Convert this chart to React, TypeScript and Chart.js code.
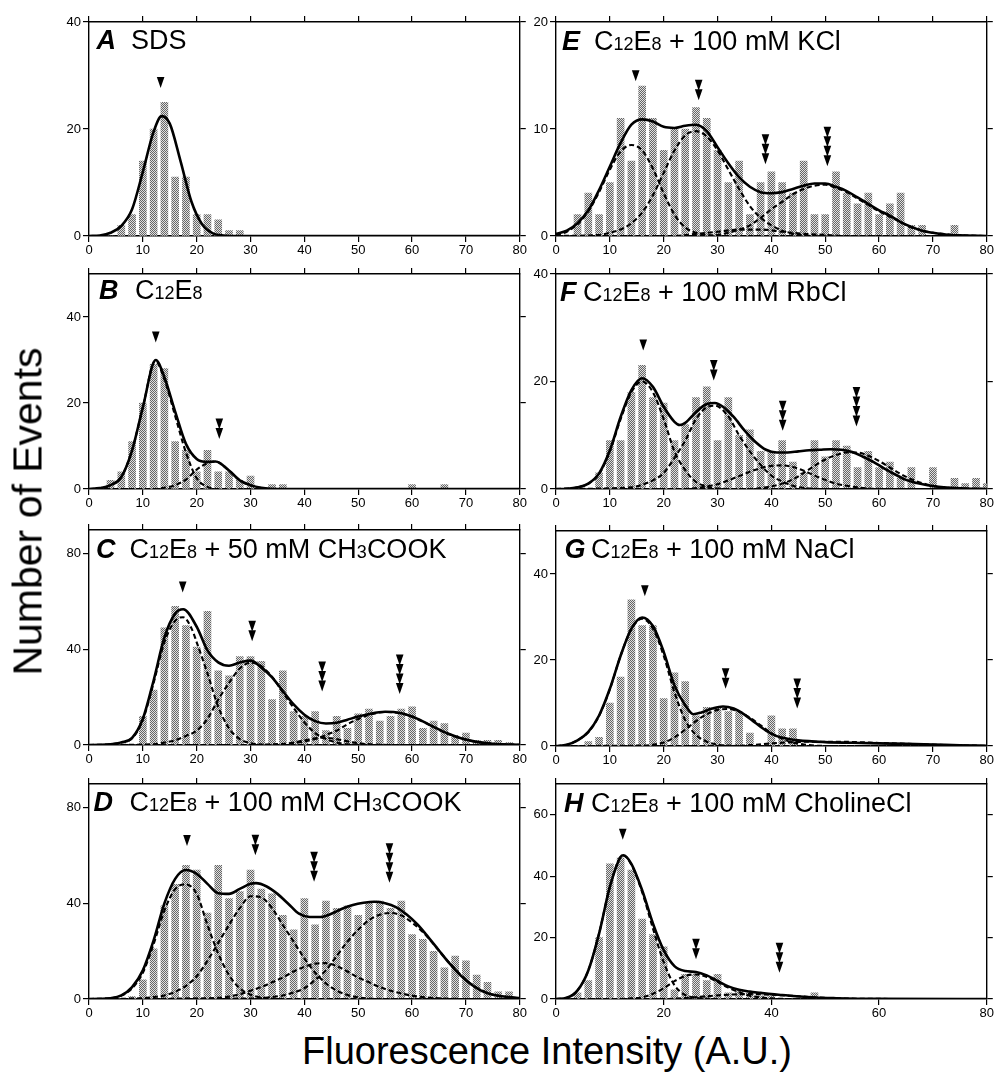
import React, { useEffect, useRef } from "react";
import { Chart, registerables } from "chart.js";

Chart.register(...registerables);

const FONT = '"Liberation Sans", Arial, Helvetica, sans-serif';
Chart.defaults.font.family = FONT;

type Pt = [number, number];
type Mark = [number, number, number];

// ---------- DATA ----------
const BIN_X = [0, 2, 4, 6, 8, 10, 12, 14, 16, 18, 20, 22, 24, 26, 28, 30, 32, 34, 36, 38, 40, 42, 44, 46, 48, 50, 52, 54, 56, 58, 60, 62, 64, 66, 68, 70, 72, 74, 76, 78, 80];

const countsA = [0, 0, 0, 2, 4, 14, 20, 25, 11, 11, 4, 4, 3, 1, 1, 0, 0, 0, 0, 0, 0, 0, 0, 0, 0, 0, 0, 0, 0, 0, 0, 0, 0, 0, 0, 0, 0, 0, 0, 0, 0];
const countsB = [0, 0, 2, 4, 11, 20, 29, 28, 11, 9, 4, 9, 4, 4, 2, 3, 0, 1, 1, 0, 0, 0, 0, 0, 0, 0, 0, 0, 0, 0, 1, 0, 0, 1, 0, 0, 0, 0, 0, 0, 0];
const countsC = [0, 0, 0, 0, 0, 12, 23, 49, 58, 50, 41, 56, 31, 29, 37, 37, 35, 19, 31, 14, 12, 14, 6, 12, 7, 13, 15, 10, 12, 15, 16, 7, 10, 9, 4, 5, 2, 2, 2, 1, 0];
const countsD = [0, 0, 0, 0, 1, 8, 21, 39, 48, 56, 54, 36, 56, 42, 45, 54, 46, 44, 35, 29, 42, 31, 41, 38, 39, 35, 40, 41, 38, 41, 27, 25, 20, 13, 18, 16, 10, 7, 3, 3, 0];
const countsE = [0, 0, 2, 4, 2, 5, 11, 7, 14, 11, 8, 10, 10, 12, 11, 8, 5, 7, 2, 5, 6, 5, 4, 7, 2, 2, 6, 4, 3, 4, 2, 3, 4, 1, 1, 0, 0, 1, 0, 0, 0];
const countsF = [0, 0, 0, 0, 3, 9, 9, 18, 23, 17, 16, 9, 12, 17, 19, 9, 17, 10, 11, 7, 7, 9, 5, 3, 9, 6, 9, 8, 4, 7, 4, 5, 2, 4, 0, 4, 0, 2, 1, 2, 1];
const countsG = [0, 0, 0, 1, 2, 10, 16, 34, 28, 28, 11, 17, 15, 7, 9, 9, 8, 8, 3, 0, 7, 4, 4, 0, 0, 0, 0, 0, 0, 0, 0, 0, 0, 0, 0, 0, 0, 0, 0, 0, 0];
const countsH = [0, 0, 2, 6, 20, 44, 46, 42, 26, 21, 17, 3, 8, 8, 6, 8, 2, 3, 2, 1, 1, 0, 0, 0, 2, 0, 0, 0, 0, 0, 0, 0, 0, 0, 0, 0, 0, 0, 0, 0, 0];

// fitted curves, [x, y]
const fitA_total: Pt[] = [[0, 0], [2, 0.1], [4, 0.6], [6, 1.9], [8, 5], [10, 12], [12, 19.5], [13.5, 22.4], [15, 21], [17, 14], [19, 6.5], [21, 2.2], [23, 0.5], [25, 0.1], [28, 0], [80, 0]];

const fitB_total: Pt[] = [[0, 0], [2, 0.2], [4, 0.9], [6, 2.8], [8, 9], [10, 19], [12.4, 30], [14, 26], [16, 18], [18, 10.5], [20, 7], [22, 6.3], [23.5, 6.4], [26, 4.3], [28, 2], [30, 0.9], [32, 0.3], [35, 0], [80, 0]];
const fitB_c1: Pt[] = [[0, 0], [2, 0.2], [4, 0.9], [6, 2.8], [8, 9], [10, 19], [12.3, 29.8], [14, 25.5], [16, 17], [18, 8.5], [20, 2.5], [22, 0.5], [24, 0], [80, 0]];
const fitB_c2: Pt[] = [[0, 0], [12, 0], [14, 0.3], [16, 0.9], [18, 2.2], [20, 4.5], [22, 6], [23.5, 6.4], [26, 4.3], [28, 2], [30, 0.8], [32, 0.2], [35, 0], [80, 0]];

const fitC_total: Pt[] = [[0, 0], [2, 0.05], [4, 0.3], [6, 1.1], [8, 3], [10, 11], [12, 27], [14, 45], [16, 55], [17.5, 56.8], [20, 49.5], [22, 39.6], [24, 34.6], [26, 33.2], [28, 34.5], [30, 35.3], [32, 32.5], [34, 28.3], [36, 22.6], [38, 17], [40, 12.7], [42, 10], [44, 9], [46, 9.3], [48, 10.6], [50, 11.9], [52, 13], [55, 13.9], [58, 13.3], [60, 11.9], [62, 9.9], [64, 7.6], [66, 5.4], [68, 3.7], [70, 2.3], [72, 1.3], [75, 0.5], [80, 0.1]];
const fitC_c1: Pt[] = [[0, 0], [4, 0.3], [6, 1], [8, 2.8], [10, 10.5], [12, 26], [14, 43], [16, 52], [17.5, 53.5], [19, 49], [20, 43], [22, 30], [24, 16], [26, 7], [28, 2.5], [30, 0.8], [32, 0.2], [35, 0], [80, 0]];
const fitC_c2: Pt[] = [[0, 0], [12, 0.3], [14, 1], [16, 2], [18, 3.8], [20, 6], [22, 11], [24, 19], [26, 26], [28, 32], [30, 34.5], [32, 33], [34, 28.5], [36, 22], [38, 15.5], [40, 9.5], [42, 5], [44, 2.5], [46, 1], [48, 0.3], [52, 0], [80, 0]];
const fitC_c3: Pt[] = [[0, 0], [34, 0], [36, 0.3], [38, 1], [40, 2], [42, 2.8], [43.5, 3.1], [45, 2.8], [47, 2], [49, 1.1], [51, 0.5], [54, 0.1], [58, 0], [80, 0]];
const fitC_c4: Pt[] = [[0, 0], [30, 0], [34, 0.3], [38, 0.8], [40, 1.5], [42, 2.5], [44, 4.2], [46, 6], [48, 8.7], [50, 10.9], [52, 12.6], [55, 13.8], [58, 13.2], [60, 11.8], [62, 9.8], [64, 7.5], [66, 5.3], [68, 3.6], [70, 2.2], [72, 1.3], [75, 0.5], [80, 0.1]];

const fitD_total: Pt[] = [[0, 0], [2, 0.05], [4, 0.3], [6, 1.5], [8, 5], [10, 12], [12, 24.5], [14, 40], [16, 50.3], [18, 54], [20, 52.4], [22, 48.2], [24, 44.3], [26, 44], [28, 46.1], [30, 48.2], [31, 48.5], [33, 47.1], [35, 44], [37, 39.9], [39, 35.7], [41, 34.3], [43, 34.3], [45, 35.7], [47, 37.8], [49, 39.4], [51, 40.3], [53, 40.7], [55, 40.1], [57, 38.5], [59, 35.4], [61, 31.2], [63, 25.9], [65, 20.3], [67, 14.8], [69, 9.9], [71, 6.1], [73, 3.3], [75, 1.8], [78, 0.8], [80, 0.4]];
const fitD_c1: Pt[] = [[0, 0], [4, 0.3], [6, 1.4], [8, 4.5], [10, 11], [12, 23], [14, 37], [16, 46], [18, 48], [20, 44], [22, 31], [24, 19], [26, 10], [28, 4.5], [30, 1.8], [32, 0.6], [34, 0.2], [38, 0], [80, 0]];
const fitD_c2: Pt[] = [[0, 0], [10, 0.3], [12, 0.8], [14, 1.5], [16, 3], [18, 5.5], [20, 9.5], [22, 16], [24, 23.5], [26, 31], [28, 38], [30, 43], [32, 42.5], [34, 38], [36, 31], [38, 24], [40, 17], [42, 11], [44, 6.5], [46, 3.5], [48, 1.7], [50, 0.7], [52, 0.2], [56, 0], [80, 0]];
const fitD_c3: Pt[] = [[0, 0], [20, 0.2], [24, 0.5], [26, 1], [28, 2], [30, 3.5], [32, 5], [34, 7], [36, 9], [38, 11.5], [40, 13.5], [42, 14.8], [44, 15], [46, 13.8], [48, 11.5], [50, 9], [52, 7], [54, 5], [56, 3.5], [58, 2.3], [60, 1.4], [62, 0.8], [65, 0.3], [70, 0], [80, 0]];
const fitD_c4: Pt[] = [[0, 0], [30, 0.2], [34, 0.8], [36, 1.5], [38, 2.7], [40, 4.5], [42, 8], [44, 12], [46, 18], [48, 24], [50, 29], [52, 33], [54, 35.3], [56, 36], [58, 35], [60, 32], [62, 28], [64, 23], [66, 17.5], [68, 12.5], [70, 8], [72, 4.8], [74, 2.6], [76, 1.3], [78, 0.7], [80, 0.3]];

const fitE_total: Pt[] = [[0, 0.2], [2, 0.5], [4, 1.2], [6, 2.4], [8, 4.3], [10, 6.5], [12, 8.7], [14, 10.4], [16, 10.9], [18, 10.7], [20, 10.2], [22, 10.1], [24, 10.3], [26, 10.4], [28, 9.8], [30, 8.3], [32, 6.8], [34, 5.5], [36, 4.6], [38, 4.1], [40, 4], [42, 4.1], [44, 4.4], [46, 4.7], [48, 4.9], [50, 4.9], [52, 4.6], [54, 4.2], [56, 3.6], [58, 3], [60, 2.4], [62, 1.9], [64, 1.3], [66, 0.85], [68, 0.5], [70, 0.3], [73, 0.1], [76, 0.05], [80, 0]];
const fitE_c1: Pt[] = [[0, 0.1], [2, 0.4], [4, 1.1], [6, 2.3], [8, 4.1], [10, 6.2], [12, 7.9], [14, 8.5], [16, 8], [18, 6.3], [20, 4], [22, 2], [24, 0.8], [26, 0.3], [28, 0.1], [32, 0], [80, 0]];
const fitE_c2: Pt[] = [[0, 0], [8, 0.1], [10, 0.3], [12, 0.6], [14, 1.2], [16, 2.2], [18, 3.8], [20, 5.9], [22, 8], [24, 9.4], [26, 9.8], [28, 9.3], [30, 8], [32, 6.2], [34, 4.4], [36, 2.8], [38, 1.7], [40, 1], [42, 0.5], [44, 0.2], [48, 0], [80, 0]];
const fitE_c3: Pt[] = [[0, 0], [22, 0], [26, 0.2], [30, 0.4], [34, 0.6], [38, 0.6], [42, 0.4], [46, 0.2], [50, 0.1], [54, 0], [80, 0]];
const fitE_c4: Pt[] = [[0, 0], [28, 0], [32, 0.3], [34, 0.6], [36, 1], [38, 1.7], [40, 2.5], [42, 3.2], [44, 3.9], [46, 4.4], [48, 4.7], [50, 4.8], [52, 4.5], [54, 4.1], [56, 3.5], [58, 2.9], [60, 2.3], [62, 1.8], [64, 1.3], [66, 0.8], [68, 0.5], [70, 0.3], [74, 0.1], [80, 0]];

const fitF_total: Pt[] = [[0, 0], [2, 0.05], [4, 0.3], [6, 1], [8, 2.9], [10, 7.2], [12, 13.4], [14, 18.4], [16, 20.6], [18, 19], [20, 15.3], [22, 12.5], [23, 11.9], [24, 12.3], [26, 14.3], [28, 15.8], [29.5, 16], [31, 15.3], [33, 13.4], [35, 10.9], [37, 8.8], [39, 7.3], [41, 6.8], [43, 6.8], [45, 7], [47, 7.2], [49, 7.3], [51, 7.4], [53, 7.3], [55, 6.9], [57, 6], [59, 5], [61, 3.8], [63, 2.7], [65, 1.7], [67, 1.1], [69, 0.7], [72, 0.3], [76, 0.1], [80, 0]];
const fitF_c1: Pt[] = [[0, 0], [4, 0.3], [6, 1], [8, 2.8], [10, 7], [12, 13], [14, 18], [16, 20], [18, 18], [20, 13], [22, 7], [24, 3.5], [26, 1.3], [28, 0.5], [30, 0.1], [34, 0], [80, 0]];
const fitF_c2: Pt[] = [[0, 0], [14, 0.3], [16, 0.8], [18, 1.6], [20, 3], [22, 5.8], [24, 9], [26, 13], [28, 15.2], [29.5, 15.5], [32, 13.5], [34, 10], [36, 7], [38, 4.5], [40, 2.5], [42, 1.4], [44, 0.6], [46, 0.2], [50, 0], [80, 0]];
const fitF_c3: Pt[] = [[0, 0], [24, 0], [28, 0.5], [30, 0.9], [32, 1.6], [34, 2.4], [36, 3.2], [38, 3.9], [40, 4.3], [42, 4.4], [44, 4.1], [46, 3.4], [48, 2.5], [50, 1.7], [52, 1], [54, 0.6], [56, 0.3], [58, 0.1], [62, 0], [80, 0]];
const fitF_c4: Pt[] = [[0, 0], [36, 0], [40, 0.5], [42, 1], [44, 1.8], [46, 3], [48, 4.3], [50, 5.5], [52, 6.3], [54, 6.8], [56, 6.8], [58, 6.2], [60, 5.2], [62, 4], [64, 2.8], [66, 1.8], [68, 1.1], [70, 0.6], [72, 0.3], [75, 0.1], [80, 0]];

const fitG_total: Pt[] = [[0, 0], [2, 0.3], [4, 1.3], [6, 3.3], [8, 7.1], [10, 13.3], [12, 21], [14, 27.3], [16, 29.9], [18, 27.9], [20, 21.9], [22, 14.1], [24, 9.5], [25.5, 7.4], [27, 7.8], [29, 8.7], [31, 9.2], [33, 8.7], [35, 7.3], [37, 5.4], [39, 3.6], [41, 2.3], [43, 1.7], [45, 1.3], [50, 0.9], [55, 0.75], [60, 0.6], [65, 0.5], [70, 0.35], [75, 0.15], [80, 0.05]];
const fitG_c1: Pt[] = [[0, 0], [2, 0.3], [4, 1.3], [6, 3.2], [8, 7], [10, 13.2], [12, 21], [14, 27.2], [16, 29.6], [18, 27.3], [20, 21], [22, 12.5], [24, 6], [26, 2.6], [28, 1], [30, 0.3], [32, 0.1], [36, 0], [80, 0]];
const fitG_c2: Pt[] = [[0, 0], [16, 0.1], [18, 0.3], [20, 0.8], [22, 2], [24, 3.8], [26, 5.8], [28, 7.4], [30, 8.4], [32, 8.6], [34, 8], [36, 6.6], [38, 4.8], [40, 3], [42, 1.7], [44, 0.8], [46, 0.35], [48, 0.1], [52, 0], [80, 0]];
const fitG_c3: Pt[] = [[0, 0], [32, 0], [36, 0.2], [40, 0.6], [44, 0.9], [48, 1], [52, 1], [56, 0.9], [60, 0.7], [64, 0.55], [68, 0.4], [72, 0.25], [76, 0.12], [80, 0.05]];

const fitH_total: Pt[] = [[0, 0], [2, 0.4], [4, 2.8], [6, 9.3], [8, 21.3], [10, 36.5], [12, 46.3], [12.5, 46.8], [14, 44], [16, 35.4], [18, 24.6], [20, 15.9], [22, 10.7], [24, 9.1], [26, 8.8], [28, 7.7], [30, 5.9], [32, 4.1], [34, 3], [36, 2.4], [38, 2], [40, 1.6], [42, 1.3], [44, 1], [46, 0.75], [48, 0.5], [52, 0.25], [56, 0.1], [60, 0.05], [80, 0]];
const fitH_c1: Pt[] = [[0, 0], [2, 0.4], [4, 2.8], [6, 9.3], [8, 21.3], [10, 36.5], [12, 46.3], [12.5, 46.7], [14, 43.7], [16, 34.8], [18, 23], [20, 12], [22, 4.5], [24, 1.3], [26, 0.4], [28, 0.1], [32, 0], [80, 0]];
const fitH_c2: Pt[] = [[0, 0], [12, 0], [14, 0.2], [16, 0.5], [18, 1.7], [20, 3.5], [22, 5.8], [24, 7.5], [26, 8], [28, 7.2], [30, 5.6], [32, 3.7], [34, 2.2], [36, 1.1], [38, 0.5], [40, 0.2], [44, 0], [80, 0]];
const fitH_c3: Pt[] = [[0, 0], [20, 0], [24, 0.3], [28, 0.9], [32, 1.4], [36, 1.6], [40, 1.4], [44, 1], [48, 0.55], [52, 0.25], [56, 0.1], [60, 0.03], [80, 0]];

// arrowhead markers: [x, y of top, count]
const markersA: Mark[] = [[13.3, 29.7, 1]];
const markersB: Mark[] = [[12.4, 36.6, 1], [24.2, 16.4, 2]];
const markersC: Mark[] = [[17.4, 68.4, 1], [30.3, 52, 2], [43.3, 35, 3], [57.7, 37.9, 4]];
const markersD: Mark[] = [[18.2, 68.6, 1], [30.9, 68.8, 2], [41.8, 61.6, 3], [55.8, 65.2, 4]];
const markersE: Mark[] = [[14.8, 15.5, 1], [26.5, 14.6, 2], [38.9, 9.5, 3], [50.4, 10.2, 4]];
const markersF: Mark[] = [[16.2, 27.8, 1], [29.3, 24, 2], [42.1, 16.4, 3], [55.8, 19, 4]];
const markersG: Mark[] = [[16.5, 37.4, 1], [31.5, 18.1, 2], [44.8, 15.7, 3]];
const markersH: Mark[] = [[12.4, 55.4, 1], [26, 19.6, 2], [41.5, 18.3, 3]];

const panelLetters = ["A", "B", "C", "D", "E", "F", "G", "H"];
const panelTexts = [
  "SDS",
  "C_12E_8",
  "C_12E_8 + 50 mM CH_3COOK",
  "C_12E_8 + 100 mM CH_3COOK",
  "C_12E_8 + 100 mM KCl",
  "C_12E_8 + 100 mM RbCl",
  "C_12E_8 + 100 mM NaCl",
  "C_12E_8 + 100 mM CholineCl",
];
const xTitle = "Fluorescence Intensity (A.U.)";
const yTitle = "Number of Events";

// ---------- LAYOUT ----------
const PLOT_W = 431;
const PAD_L = 45;
const PAD_R = 8;
const PAD_T = 10;
const PAD_B = 24;

interface PanelCfg {
  idx: number;
  left: number;
  top: number;
  bottom: number;
  yMax: number;
  yStep: number;
  xStep: number;
  counts: number[];
  total: Pt[];
  comps: Pt[][];
  markers: Mark[];
  letterX: number;
  textX: number;
  baseline: number;
}

const PANELS: PanelCfg[] = [
  { idx: 0, left: 89, top: 22, bottom: 236, yMax: 40, yStep: 20, xStep: 10, counts: countsA, total: fitA_total, comps: [], markers: markersA, letterX: 96.5, textX: 131, baseline: 49.5 },
  { idx: 1, left: 89, top: 274, bottom: 489, yMax: 50, yStep: 20, xStep: 10, counts: countsB, total: fitB_total, comps: [fitB_c1, fitB_c2], markers: markersB, letterX: 99, textX: 135, baseline: 299.5 },
  { idx: 2, left: 89, top: 530, bottom: 745, yMax: 90, yStep: 40, xStep: 10, counts: countsC, total: fitC_total, comps: [fitC_c1, fitC_c2, fitC_c3, fitC_c4], markers: markersC, letterX: 96, textX: 129.5, baseline: 558.5 },
  { idx: 3, left: 89, top: 784, bottom: 999, yMax: 90, yStep: 40, xStep: 10, counts: countsD, total: fitD_total, comps: [fitD_c1, fitD_c2, fitD_c3, fitD_c4], markers: markersD, letterX: 93.5, textX: 129.5, baseline: 811.5 },
  { idx: 4, left: 556, top: 22, bottom: 236, yMax: 20, yStep: 10, xStep: 10, counts: countsE, total: fitE_total, comps: [fitE_c1, fitE_c2, fitE_c3, fitE_c4], markers: markersE, letterX: 562, textX: 594, baseline: 50.5 },
  { idx: 5, left: 556, top: 274, bottom: 489, yMax: 40, yStep: 20, xStep: 10, counts: countsF, total: fitF_total, comps: [fitF_c1, fitF_c2, fitF_c3, fitF_c4], markers: markersF, letterX: 560, textX: 583, baseline: 302 },
  { idx: 6, left: 556, top: 531, bottom: 746, yMax: 50, yStep: 20, xStep: 10, counts: countsG, total: fitG_total, comps: [fitG_c1, fitG_c2, fitG_c3], markers: markersG, letterX: 564.5, textX: 591, baseline: 558.5 },
  { idx: 7, left: 556, top: 784, bottom: 999, yMax: 70, yStep: 20, xStep: 20, counts: countsH, total: fitH_total, comps: [fitH_c1, fitH_c2, fitH_c3], markers: markersH, letterX: 564, textX: 591, baseline: 812.5 },
];

function makePattern(ctx: CanvasRenderingContext2D) {
  const c = document.createElement("canvas");
  c.width = 2;
  c.height = 2;
  const g = c.getContext("2d")!;
  g.fillStyle = "#e0e0e0";
  g.fillRect(0, 0, 2, 2);
  g.fillStyle = "#666666";
  g.fillRect(0, 0, 1, 1);
  g.fillRect(1, 1, 1, 1);
  return ctx.createPattern(c, "repeat")!;
}

const markerPlugin = {
  id: "arrowMarks",
  afterDatasetsDraw(chart: any, _args: any, opts: any) {
    const list: Mark[] = (opts && opts.list) || [];
    const ctx: CanvasRenderingContext2D = chart.ctx;
    const xs = chart.scales.x;
    const ys = chart.scales.y;
    ctx.save();
    ctx.fillStyle = "#000";
    for (const [mx, my, n] of list) {
      const px = xs.getPixelForValue(mx);
      const py = ys.getPixelForValue(my);
      for (let k = 0; k < n; k++) {
        const t = py + k * 9.5;
        ctx.beginPath();
        ctx.moveTo(px - 3.8, t);
        ctx.lineTo(px + 3.8, t);
        ctx.lineTo(px, t + 11);
        ctx.closePath();
        ctx.fill();
      }
    }
    ctx.restore();
  },
};

function Panel({ cfg }: { cfg: PanelCfg }) {
  const ref = useRef<HTMLCanvasElement>(null);
  const W = PLOT_W + PAD_L + PAD_R;
  const H = cfg.bottom - cfg.top + PAD_T + PAD_B;

  useEffect(() => {
    const canvas = ref.current!;
    const ctx = canvas.getContext("2d")!;
    const pattern = makePattern(ctx);
    const toXY = (pts: Pt[]) => pts.map(([x, y]) => ({ x, y }));
    const lineBase = {
      type: "line",
      xAxisID: "x",
      yAxisID: "y",
      pointRadius: 0,
      borderColor: "#000",
      fill: false,
      cubicInterpolationMode: "monotone",
      order: 0,
    };
    const datasets: any[] = [
      { ...lineBase, data: toXY(cfg.total), borderWidth: 2.6 },
      ...cfg.comps.map((c) => ({ ...lineBase, data: toXY(c), borderWidth: 2.1, borderDash: [5, 3] })),
      {
        type: "bar",
        xAxisID: "x",
        yAxisID: "y",
        data: BIN_X.map((x, i) => ({ x, y: cfg.counts[i] })),
        backgroundColor: pattern,
        borderWidth: 0,
        barThickness: 7,
        order: 1,
      },
    ];
    const tickFont = { family: FONT, size: 13 };
    const grid = { drawOnChartArea: false, tickLength: 6, color: "#000", lineWidth: 1.2, offset: false };
    const border = { color: "#000", width: 1.4 };
    const chart = new Chart(ctx, {
      type: "bar",
      data: { datasets },
      options: {
        animation: false,
        responsive: false,
        maintainAspectRatio: false,
        events: [],
        layout: { padding: { top: PAD_T, right: PAD_R, left: 0, bottom: 0 } },
        plugins: {
          legend: { display: false },
          tooltip: { enabled: false },
          arrowMarks: { list: cfg.markers },
        } as any,
        scales: {
          x: {
            type: "linear",
            position: "bottom",
            min: 0,
            max: 80,
            offset: false,
            grid,
            border,
            ticks: { stepSize: cfg.xStep, includeBounds: false, color: "#000", font: tickFont, padding: 1, maxRotation: 0, autoSkip: false },
            afterFit: (s: any) => {
              s.height = PAD_B;
            },
          },
          x2: {
            type: "linear",
            position: "top",
            min: 0,
            max: 80,
            offset: false,
            grid,
            border,
            ticks: { stepSize: cfg.xStep, includeBounds: false, display: false },
            afterFit: (s: any) => {
              s.height = 0;
            },
          },
          y: {
            type: "linear",
            position: "left",
            min: 0,
            max: cfg.yMax,
            grid,
            border,
            ticks: { stepSize: cfg.yStep, includeBounds: false, color: "#000", font: tickFont, padding: 2 },
            afterFit: (s: any) => {
              s.width = PAD_L;
            },
          },
          y2: {
            type: "linear",
            position: "right",
            min: 0,
            max: cfg.yMax,
            grid,
            border,
            ticks: { stepSize: cfg.yStep, includeBounds: false, display: false },
            afterFit: (s: any) => {
              s.width = 0;
            },
          },
        } as any,
      },
      plugins: [markerPlugin as any],
    } as any);
    return () => chart.destroy();
  }, []);

  return (
    <canvas
      ref={ref}
      width={W}
      height={H}
      style={{ position: "absolute", left: cfg.left - PAD_L, top: cfg.top - PAD_T, width: W, height: H }}
    />
  );
}

function LabelText({ text }: { text: string }) {
  const parts = text.split(/_(\d+)/);
  return (
    <>
      {parts.map((p, i) =>
        i % 2 === 1 ? (
          <span key={i} style={{ fontSize: 18 }}>
            {p}
          </span>
        ) : (
          <span key={i}>{p}</span>
        )
      )}
    </>
  );
}

export default function App() {
  return (
    <div
      style={{
        position: "absolute",
        left: 0,
        top: 0,
        width: 995,
        height: 1076,
        background: "#fff",
        overflow: "hidden",
        fontFamily: FONT,
        color: "#000",
      }}
    >
      {PANELS.map((p) => (
        <Panel key={p.idx} cfg={p} />
      ))}
      {PANELS.map((p) => (
        <React.Fragment key={"l" + p.idx}>
          <div
            style={{
              position: "absolute",
              left: p.letterX,
              top: p.baseline - 23,
              fontFamily: FONT,
              fontStyle: "italic",
              fontWeight: "bold",
              fontSize: 27,
              lineHeight: "27px",
              whiteSpace: "nowrap",
            }}
          >
            {panelLetters[p.idx]}
          </div>
          <div
            style={{
              position: "absolute",
              left: p.textX,
              top: p.baseline - 23,
              fontFamily: FONT,
              fontSize: 27,
              lineHeight: "27px",
              whiteSpace: "nowrap",
            }}
          >
            <LabelText text={panelTexts[p.idx]} />
          </div>
        </React.Fragment>
      ))}
      <div
        style={{
          position: "absolute",
          left: 28 - 250,
          top: 511 - 20.5,
          width: 500,
          height: 41,
          fontSize: 41,
          lineHeight: "41px",
          textAlign: "center",
          whiteSpace: "nowrap",
          transform: "rotate(-90deg)",
        }}
      >
        {yTitle}
      </div>
      <div
        style={{
          position: "absolute",
          left: 547 - 300,
          top: 1064 - 32,
          width: 600,
          fontSize: 38,
          lineHeight: "38px",
          textAlign: "center",
          whiteSpace: "nowrap",
        }}
      >
        {xTitle}
      </div>
    </div>
  );
}
